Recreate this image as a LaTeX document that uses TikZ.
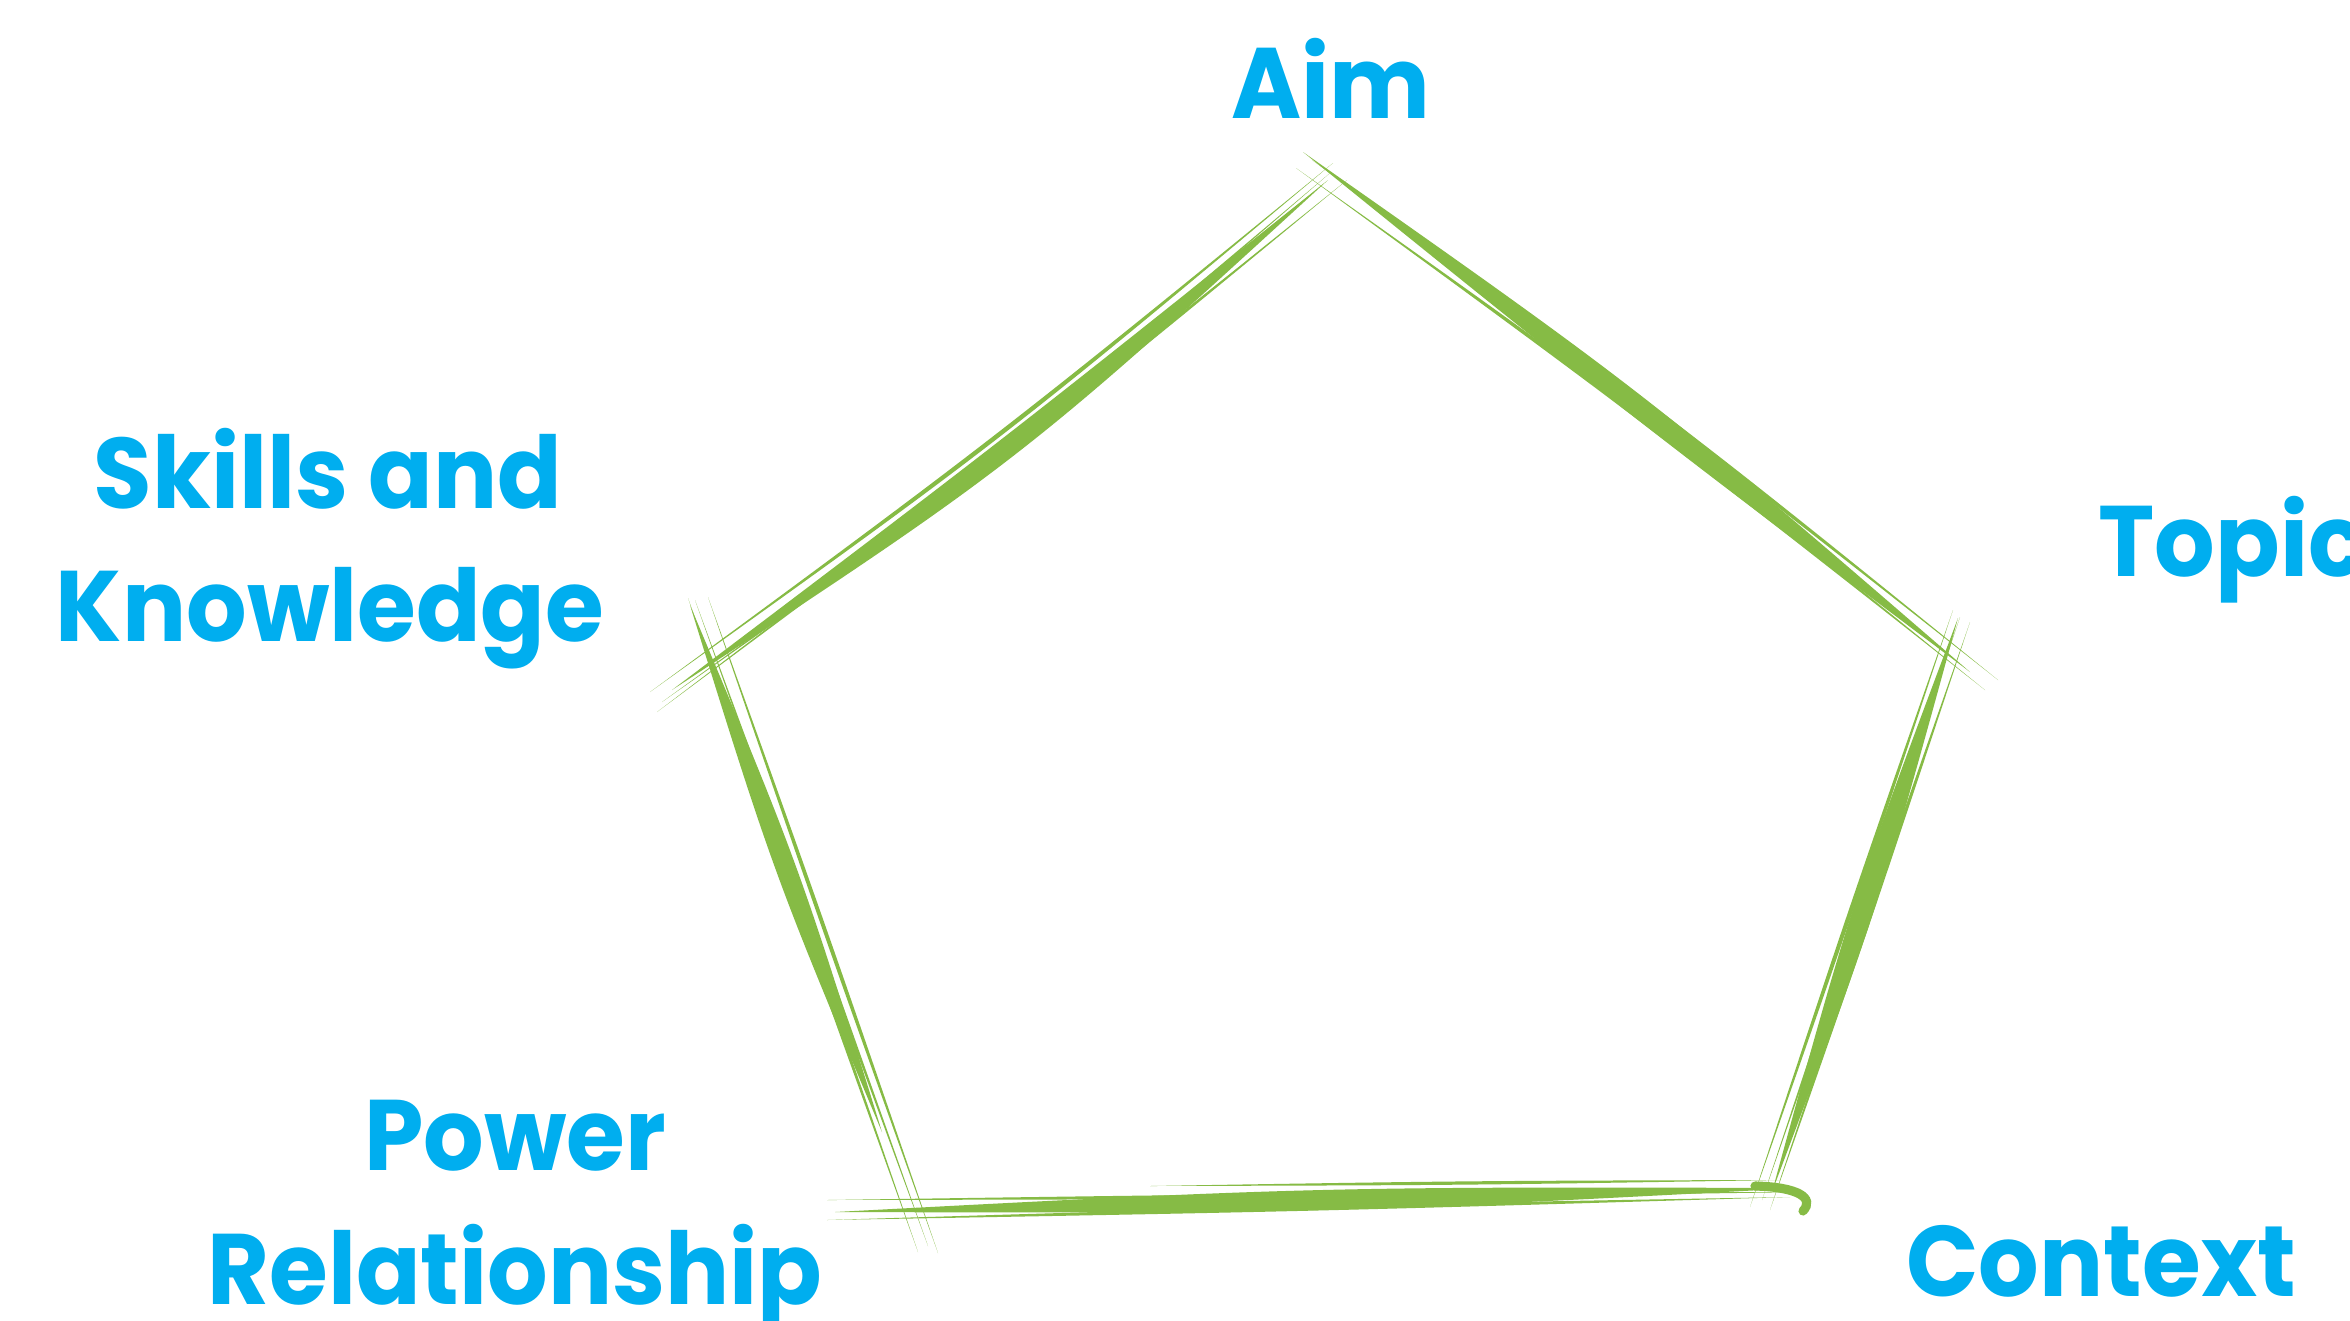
\documentclass[tikz,border=0pt]{standalone}
\usepackage{fontspec}
\newfontfamily\labfont{Poppins}[FakeStretch=0.95]
\definecolor{labcyan}{HTML}{00AEEF}
\definecolor{brushgreen}{HTML}{86BB45}
\newcommand\strand[5][]{\fill[brushgreen,#1] #2 to[bend left=#4, looseness=1.25] #3 to[bend left=#5, looseness=1.25] #2 -- cycle;}
\begin{document}
\begin{tikzpicture}[x=0.01cm,y=-0.01cm,
  lab/.style={text=labcyan, font=\labfont\bfseries\fontsize{28.5}{34}\selectfont, inner sep=0pt, anchor=base}]
\fill[white] (0,0) rectangle (2350,1320);
\useasboundingbox (0,0) rectangle (2350,1320);
% side 1: top -> left
\strand{(1328,180)}{(672,690)}{4.64}{-0.8}
\strand{(1333,163)}{(650,692)}{2.24}{-1.44}
\strand{(1347,180)}{(662,702)}{2.24}{-1.44}
\strand{(1330,173)}{(657,712)}{2.16}{-1.44}
% side 2: top -> right
\strand{(1303,152)}{(1970,672)}{2.9}{1.0}
\strand{(1296,168)}{(1985,690)}{1.84}{-1.04}
\strand{(1312,160)}{(1998,680)}{1.84}{-1.04}
% side 3: right -> bottom right
\strand{(1958,618)}{(1772,1192)}{2.64}{2.64}
\strand{(1953,610)}{(1750,1207)}{0.52}{0.52}
\strand{(1970,622)}{(1770,1210)}{0.52}{0.52}
\strand{(1960,617)}{(1762,1200)}{0.44}{0.44}
% side 4: bottom right -> bottom left
\strand{(1800,1188)}{(835,1212)}{1.6}{1.6}
\strand{(1805,1192)}{(827,1200)}{0.36}{0.36}
\strand{(1790,1197)}{(827,1220)}{0.36}{0.36}
\strand{(1780,1180)}{(1150,1186)}{0.4}{0.4}
\draw[brushgreen, line width=2.6pt, line cap=round] (1755,1186) .. controls (1798,1187) and (1815,1198) .. (1803,1211);
% side 5: left -> bottom left
\strand{(690,605)}{(882,1132)}{2.8}{2.8}
\strand{(688,598)}{(918,1252)}{0.44}{0.44}
\strand{(708,597)}{(938,1253)}{0.44}{0.44}
\strand{(695,600)}{(928,1246)}{0.4}{0.4}
% labels
\node[lab] (aim) at (1331,118) {Aim};
\node[lab] (skills1) at (328,508) {Skills and};
\node[lab] (skills2) at (330,641) {Knowledge};
\node[lab, anchor=base west] (topic) at (2098,576) {Topic};
\node[lab] (power) at (515,1170) {Power};
\node[lab] (rel) at (515,1304) {Relationship};
\node[lab] (context) at (2101,1296) {Context};
\end{tikzpicture}
\end{document}
